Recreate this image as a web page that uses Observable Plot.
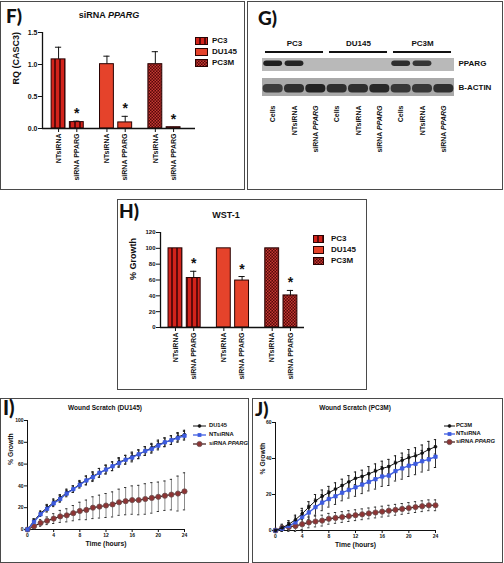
<!DOCTYPE html>
<html><head><meta charset="utf-8">
<script src="https://cdn.jsdelivr.net/npm/d3@7"></script>
<script src="https://cdn.jsdelivr.net/npm/@observablehq/plot@0.6"></script>
<style>
body{margin:0;background:#fff;}
#page{position:relative;width:504px;height:563px;overflow:hidden;background:#fff;font-family:"Liberation Sans",Arial,Helvetica,sans-serif;font-weight:bold;color:#111;}
.box{position:absolute;border:1px solid #4a4a4a;box-sizing:border-box;}
.abs{position:absolute;white-space:nowrap;line-height:1;}
.letter{font-family:Lato,"Open Sans",sans-serif;font-weight:900;}
</style></head>
<body><div id="page">
<svg width="0" height="0" style="position:absolute"><defs>
<pattern id="pStripe" patternUnits="userSpaceOnUse" width="5" height="5"><rect width="5" height="5" fill="#5e0a0a"/><rect x="1" width="3" height="5" fill="#d3231b"/></pattern>
<pattern id="pCheck" patternUnits="userSpaceOnUse" width="3" height="3"><rect width="3" height="3" fill="#560707"/><rect width="1.5" height="1.5" fill="#c43a34"/><rect x="1.5" y="1.5" width="1.5" height="1.5" fill="#c43a34"/></pattern>
</defs></svg>
</div>
<script>
// ---------------- DATA ----------------
const cellLines = ["PC3", "DU145", "PC3M"];
const treatments = ["NTsiRNA", "siRNA PPARG"];

// F) siRNA PPARG — RQ (CASC3)
const rqMean = [1.08, 0.10, 1.005, 0.095, 1.005, 0.02];
const rqErr  = [0.19, 0.015, 0.125, 0.095, 0.195, 0.0];
const rqSig  = [false, true, false, true, false, true];
const rqTicks = [0, 0.5, 1.0, 1.5];

// H) WST-1 — % Growth
const wstMean = [100, 62.5, 100, 59.3, 100, 40.5];
const wstErr  = [0, 8.5, 0, 5.1, 0, 6.3];
const wstSig  = [false, true, false, true, false, true];
const wstTicks = [0, 20, 40, 60, 80, 100, 120];

// G) Western blot
const blotLanes = ["Cells", "NTsiRNA", "siRNA PPARG"];
const blotRows = ["PPARG", "B-ACTIN"];
const ppargBand = [0.95, 0.9, 0, 0, 0, 0, 0.85, 0.8, 0];
const actinBand = [0.75, 0.85, 0.95, 0.85, 0.85, 0.9, 0.8, 0.8, 0.85];

// I) / J) Wound scratch
const hours = [0,1,2,3,4,5,6,7,8,9,10,11,12,13,14,15,16,17,18,19,20,21,22,23,24];
const hourTicks = [0, 4, 8, 12, 16, 20, 24];
const du145Growth = [0,8,15,20,25,29,34,37,42,45,49,52,55,58,62,64,67,69,72,75,78,80,82,85,87];
const du145Err    = [0,2,2,3,3,3,3,3,3,4,4,4,4,4,4,4,4,4,4,4,4,4,4,4,4];
const du145NtGrowth = [0,7,14,19,24,28,33,37,41,45,48,52,55,58,61,64,66,69,72,74,77,80,82,84,86];
const du145NtErr    = [0,2,2,3,3,3,3,3,3,4,4,4,4,4,4,4,4,4,4,4,4,4,4,4,4];
const du145SiGrowth = [0,3,6,8,10,12,13,15,17,18,20,21,22,23,25,26,27,27,28,29,30,31,32,33,35];
const du145SiErr    = [0,2,3,3.5,4.5,5.5,6,7,8,9,10,10.5,11,11.5,12,12.5,13,13.5,14,14,13.5,13.5,14,16,17];
const du145Ticks = [0, 20, 40, 60, 80, 100];

const pc3mGrowth = [0,1.5,3.5,6,9.3,13,16.5,19,21,23,25,27,29,30,31.5,33,34.5,35.5,37.5,39,40.5,41.5,43,45,46.5];
const pc3mErr    = [0,1.5,2,2.5,3,3,3.5,3.5,3.5,3.5,3.5,3.5,3.5,3.5,4,4,4,4,4,4,4.5,4.5,4.5,4.5,4];
const pc3mNtGrowth = [0,1,2.5,4.5,7.5,10,13,15.5,17.5,19,21,22.5,24,25.5,27,28.5,30,30.5,33,34.5,36,37,38.5,39.5,41];
const pc3mNtErr    = [0,1.5,2,3,3.5,4,4.5,4.5,4.5,4.5,4.5,4.5,5,5,5,5.5,5.5,5.5,5.5,6,6,6,6,6,6];
const pc3mSiGrowth = [0,1.5,2,2.5,3.5,4.5,5,5.5,6.5,7,7.5,8,8.5,9,9.5,10,10.5,11,11.5,12,12.5,13,13.5,14,14];
const pc3mSiErr    = [0,2,2.5,3,3,3,3,3,3,3,3,3,3,3,3,3,3,3,3,3,3,3,3,3,3];
const pc3mTicks = [0, 20, 40, 60];

// ---------------- STYLES ----------------
const FONT = '"Liberation Sans", Arial, Helvetica, sans-serif';
const FILLS = {PC3: "url(#pStripe)", DU145: "#e5432b", PC3M: "url(#pCheck)"};
const GROUP_STEP = 2.65, BAR_HALF = 0.38, CAP = 0.17;
const page = document.getElementById("page");

function place(el, x, y) { el.style.position = "absolute"; el.style.left = x + "px"; el.style.top = y + "px"; page.appendChild(el); return el; }
function box(x, y, w, h) { const d = document.createElement("div"); d.className = "box"; d.style.width = w + "px"; d.style.height = h + "px"; return place(d, x, y); }
function txt(html, x, y, size, anchor = "middle", cls = "") {
  const d = document.createElement("div"); d.className = "abs " + cls; d.innerHTML = html; d.style.fontSize = size + "px";
  const tx = anchor === "middle" ? "-50%" : anchor === "end" ? "-100%" : "0";
  d.style.transform = `translate(${tx},-50%)`; return place(d, x, y);
}
function italicize(svg) {
  svg.querySelectorAll("text").forEach(t => { if (t.textContent === "siRNA PPARG") t.innerHTML = 'siRNA <tspan font-style="italic">PPARG</tspan>'; });
}

// ---------------- BOXES ----------------
box(0, 1, 245, 189);
box(247, 1, 256, 189);
box(117, 199, 250, 191);
box(0, 398, 249, 165);
box(252, 398, 251, 165);

// ---------------- BAR PANELS ----------------
function barTable(means, errs, sigs) {
  return means.map((m, i) => ({group: cellLines[Math.floor(i / 2)], treat: treatments[i % 2],
    pos: Math.floor(i / 2) * GROUP_STEP + (i % 2), mean: m, err: errs[i], sig: sigs[i]}));
}
function barPlot({table, width, height, ml, mr, mt, mb, xdom, ydom, yticks, yfmt, ylabel, ylabelDx, ylabelDy, ylabelSize, tickSize}) {
  const tickLabel = new Map(table.map(d => [d.pos, d.treat]));
  return Plot.plot({
    width, height, marginLeft: ml, marginRight: mr, marginTop: mt, marginBottom: mb,
    x: {type: "linear", domain: xdom},
    y: {domain: ydom},
    color: {type: "identity"},
    style: {fontFamily: FONT, fontWeight: "bold", fontSize: tickSize + "px", color: "#111", background: "transparent", overflow: "visible"},
    marks: [
      Plot.rectY(table, {x1: d => d.pos - BAR_HALF, x2: d => d.pos + BAR_HALF, y: "mean", fill: d => FILLS[d.group], stroke: "#2a0303", strokeWidth: 1}),
      Plot.ruleX(table.filter(d => d.err > 0), {x: "pos", y1: "mean", y2: d => d.mean + d.err, stroke: "#111", strokeWidth: 1}),
      Plot.ruleY(table.filter(d => d.err > 0), {y: d => d.mean + d.err, x1: d => d.pos - CAP, x2: d => d.pos + CAP, stroke: "#111", strokeWidth: 1}),
      Plot.text(table.filter(d => d.sig), {x: "pos", y: d => d.mean + d.err, text: d => "*", dy: -3, fontSize: 14, fontWeight: "bold", lineAnchor: "bottom"}),
      Plot.ruleY([ydom[0]], {stroke: "#111", strokeWidth: 1.3}),
      Plot.ruleX([xdom[0]], {y1: ydom[0], y2: ydom[1], stroke: "#111", strokeWidth: 1.3}),
      Plot.axisY({ticks: yticks, tickFormat: yfmt, tickSize: 4, tickPadding: 1, label: null, fontSize: tickSize}),
      Plot.axisX({ticks: table.map(d => d.pos), tickFormat: p => tickLabel.get(p), tickRotate: -90, tickSize: 4, tickPadding: 1, label: null, fontSize: 7}),
      Plot.text([ylabel], {frameAnchor: "left", rotate: -90, dx: ylabelDx, dy: ylabelDy, fontSize: ylabelSize, fontWeight: "bold"})
    ]
  });
}

const fSvg = barPlot({table: barTable(rqMean, rqErr, rqSig), width: 245, height: 190, ml: 42, mr: 50, mt: 32, mb: 62,
  xdom: [-0.88, 7.5], ydom: [0, 1.5], yticks: rqTicks, yfmt: d3.format(".1f"), ylabel: "RQ (CASC3)", ylabelDx: -26, ylabelDy: 4, ylabelSize: 9, tickSize: 7});
place(fSvg, 0, 0);

const hSvg = barPlot({table: barTable(wstMean, wstErr, wstSig), width: 249, height: 190, ml: 43, mr: 62, mt: 33, mb: 62,
  xdom: [-0.82, 7.07], ydom: [0, 120], yticks: wstTicks, yfmt: d3.format("d"), ylabel: "% Growth", ylabelDx: -27, ylabelDy: 0, ylabelSize: 9, tickSize: 6});
place(hSvg, 117, 199);

// legends for bar panels
function barLegend(x, y, dy, sw, sh, tx, size) {
  cellLines.forEach((g, i) => {
    const s = document.createElementNS("http://www.w3.org/2000/svg", "svg");
    s.setAttribute("width", sw); s.setAttribute("height", sh);
    s.innerHTML = `<rect x="0.5" y="0.5" width="${sw - 1}" height="${sh - 1}" fill="${FILLS[g]}" stroke="#2a0303"/>`;
    place(s, x, y + i * dy - sh / 2);
    txt(g, tx, y + i * dy, size, "start");
  });
}
barLegend(195, 41, 11.2, 13, 8, 212, 8);
barLegend(313, 239, 11, 11, 8, 331, 8);

// titles / letters of bar panels
txt('siRNA <i>PPARG</i>', 109, 15, 9);
txt('WST-1', 226, 215, 9);
txt('F)', 6, 15, 19, "start", "letter");
txt('H)', 119, 210, 19, "start", "letter");
txt('G)', 258, 17, 19, "start", "letter");
txt('I)', 3, 407, 20, "start", "letter");
txt('J)', 255, 408, 19, "start", "letter");

// ---------------- BLOT PANEL ----------------
const laneTable = cellLines.flatMap((g, gi) => blotLanes.map((l, li) => ({group: g, lane: l, idx: gi * 3 + li})));
const bandTable = [
  ...ppargBand.map((v, i) => ({row: "PPARG", idx: i, v})),
  ...actinBand.map((v, i) => ({row: "B-ACTIN", idx: i, v}))
];
const gSvg = Plot.plot({
  width: 257, height: 190, marginLeft: 16, marginRight: 49, marginTop: 34, marginBottom: 91,
  x: {type: "linear", domain: [-0.5, 8.5]},
  y: {type: "band", domain: ["hdr", ...blotRows], paddingInner: 0.12, paddingOuter: 0.12, axis: null},
  opacity: {type: "identity"},
  style: {fontFamily: FONT, fontWeight: "bold", fontSize: "7px", color: "#111", background: "transparent", overflow: "visible"},
  marks: [
    Plot.barX(["PPARG"], {x1: -0.5, x2: 8.5, y: d => d, fill: "#b9b9b9", insetBottom: 5}),
    Plot.barX(["B-ACTIN"], {x1: -0.5, x2: 8.5, y: d => d, fill: "#a9a9a9"}),
    Plot.barX(bandTable.filter(d => d.row === "PPARG" && d.v > 0), {x1: d => d.idx - 0.44, x2: d => d.idx + 0.44, y: "row", insetTop: 2.5, insetBottom: 10, rx: 3, fill: "#151515", fillOpacity: "v"}),
    Plot.barX(bandTable.filter(d => d.row === "B-ACTIN"), {x1: d => d.idx - 0.47, x2: d => d.idx + 0.47, y: "row", insetTop: 6, insetBottom: 3.5, rx: 4, fill: "#1a1a1a", fillOpacity: "v"}),
    Plot.barX(cellLines, {x1: (d, i) => i * 3 - 0.36, x2: (d, i) => i * 3 + 2.36, y: d => "hdr", insetTop: 13, insetBottom: 3, fill: "#111"}),
    Plot.text(cellLines, {x: (d, i) => i * 3 + 1, y: d => "hdr", text: d => d, dy: -4, fontSize: 8, fontWeight: "bold"}),
    Plot.text(["PPARG"], {x: 8.5, y: d => d, text: d => d, dx: 4, dy: -4, textAnchor: "start", fontSize: 8, fontWeight: "bold"}),
    Plot.text(["B-ACTIN"], {x: 8.5, y: d => d, text: d => d, dx: 4, dy: 0, textAnchor: "start", fontSize: 8, fontWeight: "bold"}),
    Plot.axisX({ticks: laneTable.map(d => d.idx), tickFormat: i => laneTable[i].lane, tickRotate: -90, tickSize: 0, tickPadding: 6, label: null, fontSize: 7})
  ]
});
italicize(gSvg);
place(gSvg, 246, 0);

// ---------------- WOUND SCRATCH PANELS ----------------
const SERIES_STYLE = {
  cell: {line: "#111", width: 1, fill: "#111", dotStroke: "#111", symbol: "circle", r: 1.4, err: "#222", cap: "#222"},
  nt:   {line: "#3d5ce0", width: 1.3, fill: "#3d5ce0", dotStroke: "#3d5ce0", symbol: "square", r: 1.9, err: "#333", cap: "#222"},
  si:   {line: "#3a1414", width: 1.2, fill: "#8e3434", dotStroke: "#6a5050", symbol: "circle", r: 2.6, err: "#8a8a8a", cap: "#333"}
};
function growthPlot({width, height, ml, mr, mt, mb, ydom, yticks, series, yDx, yDy}) {
  const marks = [];
  for (const s of series) {
    const st = SERIES_STYLE[s.key];
    const rows = hours.map((h, i) => ({h, v: s.values[i], e: s.errs[i]})).filter(d => d.e > 0);
    marks.push(Plot.ruleX(rows, {x: "h", y1: d => d.v - d.e, y2: d => d.v + d.e, stroke: st.err, strokeWidth: 1}));
    marks.push(Plot.ruleY(rows, {y: d => d.v + d.e, x1: d => d.h - CAP, x2: d => d.h + CAP, stroke: st.cap, strokeWidth: 1}));
    marks.push(Plot.ruleY(rows, {y: d => d.v - d.e, x1: d => d.h - CAP, x2: d => d.h + CAP, stroke: st.cap, strokeWidth: 1}));
  }
  for (const s of series) {
    const st = SERIES_STYLE[s.key];
    const rows = hours.map((h, i) => ({h, v: s.values[i]}));
    marks.push(Plot.line(rows, {x: "h", y: "v", stroke: st.line, strokeWidth: st.width}));
    marks.push(Plot.dot(rows, {x: "h", y: "v", symbol: st.symbol, r: st.r, fill: st.fill, stroke: st.dotStroke, strokeWidth: 0.8}));
  }
  return Plot.plot({
    width, height, marginLeft: ml, marginRight: mr, marginTop: mt, marginBottom: mb,
    x: {domain: [0, 24]}, y: {domain: ydom},
    style: {fontFamily: FONT, fontWeight: "bold", fontSize: "5px", color: "#111", background: "transparent", overflow: "visible"},
    marks: [
      Plot.ruleY([ydom[0]], {stroke: "#111", strokeWidth: 1}),
      Plot.ruleX([0], {y1: ydom[0], y2: ydom[1], stroke: "#111", strokeWidth: 1}),
      Plot.axisY({ticks: yticks, tickSize: 3, tickPadding: 1, label: null, fontSize: 5}),
      Plot.axisX({ticks: hourTicks, tickSize: 3, tickPadding: 1, label: null, fontSize: 5}),
      ...marks,
      Plot.text(["Time (hours)"], {frameAnchor: "bottom", dy: 16, fontSize: 6.8, fontWeight: "bold"}),
      Plot.text(["% Growth"], {frameAnchor: "left", rotate: -90, dx: yDx, dy: yDy, fontSize: 6.8, fontWeight: "bold"})
    ]
  });
}
const iSvg = growthPlot({width: 249, height: 164, ml: 27, mr: 65, mt: 22, mb: 33, ydom: [0, 100], yticks: du145Ticks, yDx: -17, yDy: -10,
  series: [
    {key: "si", values: du145SiGrowth, errs: du145SiErr},
    {key: "cell", values: du145Growth, errs: du145Err},
    {key: "nt", values: du145NtGrowth, errs: du145NtErr}
  ]});
place(iSvg, 0, 398);
const jSvg = growthPlot({width: 250, height: 164, ml: 23, mr: 67, mt: 24, mb: 32, ydom: [0, 60], yticks: pc3mTicks, yDx: -13, yDy: -2,
  series: [
    {key: "si", values: pc3mSiGrowth, errs: pc3mSiErr},
    {key: "nt", values: pc3mNtGrowth, errs: pc3mNtErr},
    {key: "cell", values: pc3mGrowth, errs: pc3mErr}
  ]});
place(jSvg, 252, 398);

txt('Wound Scratch (DU145)', 105, 408, 6.5);
txt('Wound Scratch (PC3M)', 355, 408, 6.5);

function lineLegend(x, y, dy, len, tx, entries) {
  entries.forEach((e, i) => {
    const st = SERIES_STYLE[e.key];
    const s = document.createElementNS("http://www.w3.org/2000/svg", "svg");
    s.setAttribute("width", len); s.setAttribute("height", 8);
    const m = st.symbol === "square"
      ? `<rect x="${len / 2 - st.r}" y="${4 - st.r}" width="${2 * st.r}" height="${2 * st.r}" fill="${st.fill}"/>`
      : `<circle cx="${len / 2}" cy="4" r="${st.r}" fill="${st.fill}" stroke="${st.dotStroke}" stroke-width="0.8"/>`;
    s.innerHTML = `<line x1="0" x2="${len}" y1="4" y2="4" stroke="${st.line}" stroke-width="${st.width}"/>${m}`;
    place(s, x, y + i * dy - 4);
    txt(e.label, tx, y + i * dy, 5.8, "start");
  });
}
lineLegend(193, 426, 9, 13, 209, [
  {key: "cell", label: "DU145"}, {key: "nt", label: "NTsiRNA"}, {key: "si", label: "siRNA <i>PPARG</i>"}]);
lineLegend(444, 426, 8, 11, 456, [
  {key: "cell", label: "PC3M"}, {key: "nt", label: "NTsiRNA"}, {key: "si", label: "siRNA <i>PPARG</i>"}]);
</script>
</body></html>
